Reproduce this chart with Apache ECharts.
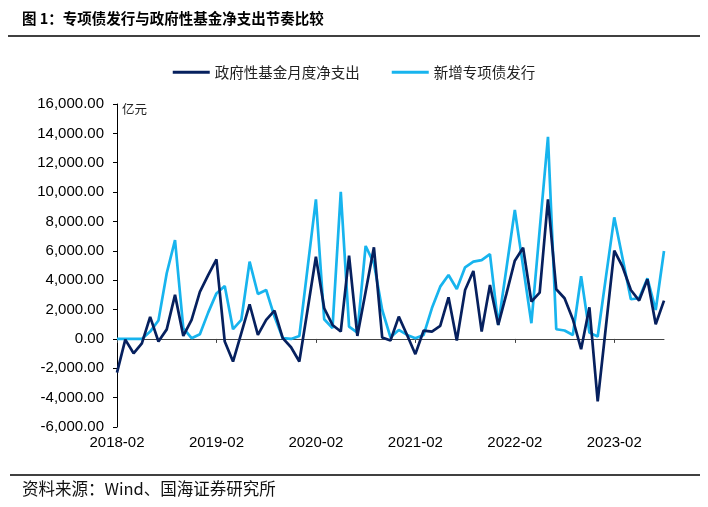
<!DOCTYPE html>
<html>
<head>
<meta charset="utf-8">
<script src="https://cdn.jsdelivr.net/npm/echarts@6/dist/echarts.min.js"></script>
<style>
html,body{margin:0;padding:0;background:#fff;}
#chart{width:708px;height:507px;}
</style>
</head>
<body>
<div id="chart"></div>
<script>
// Monthly data 2018-02 .. 2023-08 (亿元)
const startYear = 2018, startMonth = 2, monthCount = 67;
const categories = [];
for (let i = 0; i < monthCount; i++) {
  const m = startMonth - 1 + i;
  const y = startYear + Math.floor(m / 12);
  const mm = (m % 12) + 1;
  categories.push(y + '-' + (mm < 10 ? '0' + mm : mm));
}
const seriesNames = ['政府性基金月度净支出', '新增专项债发行'];
const fundNetSpending = [
  -2300, -50, -980, -300, 1500, -180, 650, 3000, 200, 1300, 3200, 4350,
  5420, -180, -1540, 400, 2360, 270, 1290, 1930, 50, -570, -1540, 2000,
  5600, 2090, 950, 500, 5670, 200, 3220, 6240, 90, -110, 1520, 270,
  -1040, 570, 500, 880, 2830, -110, 3330, 4630, 500, 3670, 950, 3100,
  5330, 6210, 2540, 3150, 9500, 3380, 2770, 1340, -700, 2150, -4260, 880,
  6010, 4920, 3330, 2610, 4060, 1000, 2610
];
const specialBondIssuance = [
  0, 0, 0, 0, 500, 1250, 4470, 6730, 730, 50, 320, 1790,
  3100, 3600, 660, 1290, 5260, 3060, 3330, 1520, 50, 0, 200, 4850,
  9500, 1340, 730, 10020, 840, 430, 6330, 5150, 1970, 110, 610, 270,
  50, 270, 2100, 3560, 4350, 3400, 4880, 5260, 5370, 5780, 950, 4850,
  8780, 4920, 1070, 7420, 13760, 660, 570, 270, 4270, 430, 160, 4240,
  8280, 5490, 2700, 2770, 4130, 1970, 5990
];
const yMin = -6000, yMax = 16000, yStep = 2000;
const titleText = '图 1：专项债发行与政府性基金净支出节奏比较';
const sourceText = '资料来源：Wind、国海证券研究所';
const unitText = '亿元';

const FONT = '"Liberation Sans", Arial, "Noto Sans CJK SC", sans-serif';
const CJK = '"Noto Sans CJK SC", "Liberation Sans", sans-serif';
const DARK = '#06205e';
const LIGHT = '#17b4ee';

function fmt(v) {
  const neg = v < 0;
  const s = Math.abs(v).toFixed(2);
  const parts = s.split('.');
  parts[0] = parts[0].replace(/\B(?=(\d{3})+(?!\d))/g, ',');
  return (neg ? '-' : '') + parts[0] + '.' + parts[1];
}

const chart = echarts.init(document.getElementById('chart'), null, {renderer: 'canvas'});
chart.setOption({
  backgroundColor: '#fff',
  animation: false,
  textStyle: {fontFamily: FONT},
  grid: {left: 117, right: 44, top: 104, bottom: 80, containLabel: false},
  legend: {
    top: 60, left: 'center',
    itemWidth: 37, itemHeight: 3, itemGap: 32,
    icon: 'rect',
    textStyle: {fontFamily: CJK, fontSize: 14.5, color: '#222'},
    data: seriesNames
  },
  graphic: [
    {type: 'text', left: 22, top: 11, style: {text: titleText, font: 'bold 14.5px ' + CJK, fill: '#000'}},
    {type: 'line', shape: {x1: 8, y1: 36, x2: 700, y2: 36}, style: {stroke: '#000', lineWidth: 1.5}},
    {type: 'line', shape: {x1: 10, y1: 475, x2: 700, y2: 475}, style: {stroke: '#000', lineWidth: 1.5}},
    {type: 'text', left: 22, top: 480, style: {text: sourceText, font: '16.5px ' + CJK, fill: '#111'}},
    {type: 'text', left: 122, top: 103, style: {text: unitText, font: '12.5px ' + CJK, fill: '#222'}}
  ],
  xAxis: [
    {
      type: 'category', data: categories, boundaryGap: false,
      position: 'bottom',
      axisLine: {show: false, onZero: false},
      axisTick: {show: false},
      axisLabel: {interval: 11, fontSize: 15, color: '#000', margin: 8},
      splitLine: {show: false}
    },
    {
      type: 'category', data: categories, boundaryGap: false,
      position: 'bottom',
      axisLine: {show: true, onZero: true, lineStyle: {color: '#444', width: 1}},
      axisTick: {show: true, interval: 11, length: 4, lineStyle: {color: '#444'}},
      axisLabel: {show: false},
      splitLine: {show: false}
    }
  ],
  yAxis: {
    type: 'value', min: yMin, max: yMax, interval: yStep,
    axisLine: {show: true, lineStyle: {color: '#000', width: 1}},
    axisTick: {show: true, length: 4, lineStyle: {color: '#000'}},
    axisLabel: {formatter: fmt, fontSize: 15, color: '#000', margin: 13},
    splitLine: {show: false}
  },
  series: [
    {
      name: seriesNames[0], type: 'line', data: fundNetSpending,
      xAxisIndex: 0, showSymbol: false, symbol: 'none', z: 3,
      lineStyle: {color: DARK, width: 2.7}, itemStyle: {color: DARK}
    },
    {
      name: seriesNames[1], type: 'line', data: specialBondIssuance,
      xAxisIndex: 0, showSymbol: false, symbol: 'none', z: 2,
      lineStyle: {color: LIGHT, width: 2.7}, itemStyle: {color: LIGHT}
    }
  ]
});
</script>
</body>
</html>
